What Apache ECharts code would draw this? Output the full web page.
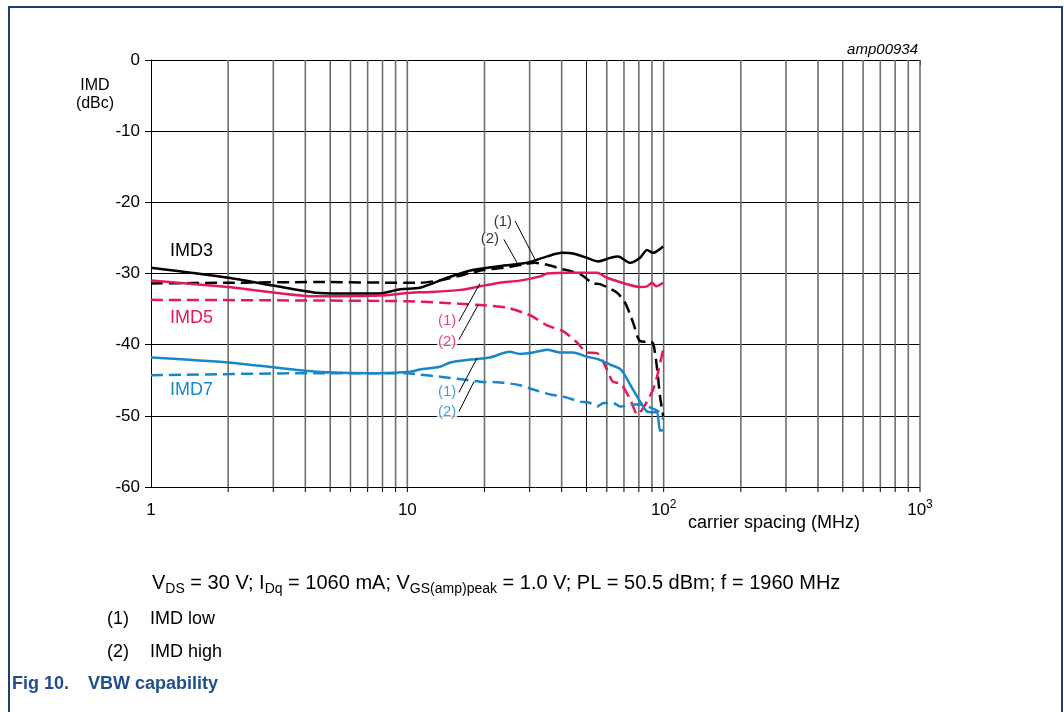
<!DOCTYPE html>
<html>
<head>
<meta charset="utf-8">
<script src="https://cdn.jsdelivr.net/npm/echarts@6/dist/echarts.min.js"></script>
<style>
  html, body { margin: 0; padding: 0; background: #fff; }
  #chart { width: 1064px; height: 712px; }
</style>
</head>
<body>
<div id="chart"></div>
<script>
// Carrier spacing (MHz) vs IMD (dBc); (1) = IMD low, (2) = IMD high
const imd3Low = [[1,-29.2],[2,-30.6],[3,-31.7],[4.4,-32.7],[5.5,-32.8],[7.8,-32.8],[9.4,-32.2],[11.2,-32.0],[14.3,-30.6],[18,-29.5],[22.4,-29.0],[29.3,-28.5],[35.1,-27.6],[40.1,-27.1],[44.3,-27.2],[50.2,-27.8],[55.5,-28.3],[61.8,-27.8],[66.4,-27.6],[74,-28.5],[80.9,-27.8],[86.1,-26.7],[90.9,-27.1],[99.5,-26.2]];
const imd3High = [[1,-31.4],[2,-31.3],[4.4,-31.2],[10,-31.3],[11.2,-31.3],[13.6,-30.9],[16.5,-30.2],[19.8,-29.5],[23.8,-29.2],[28.6,-28.7],[31.5,-28.5],[40.5,-29.4],[47.2,-30.1],[53.1,-31.4],[56.5,-31.5],[65.8,-32.7],[70.7,-34.1],[76,-36.9],[80.9,-39.5],[86.9,-39.6],[90.9,-39.8],[94.2,-43.3],[96.8,-47.3],[99.5,-50.0]];
const imd5Low = [[1,-31.0],[2,-31.9],[4.4,-33.2],[7.8,-33.1],[10.3,-32.7],[12.3,-32.6],[16.1,-32.3],[19.2,-31.8],[23,-31.3],[27.5,-31.0],[33,-30.4],[35.1,-30.0],[43.1,-29.9],[55,-29.9],[60.1,-30.6],[72,-31.5],[80.9,-31.9],[86.1,-31.8],[90.1,-31.3],[93.4,-31.8],[99.5,-31.3]];
const imd5High = [[1,-33.7],[4.4,-33.8],[10,-33.9],[13.6,-34.1],[18.7,-34.4],[24.5,-34.8],[29.3,-35.7],[31,-36.1],[35.1,-37.3],[40.5,-38.1],[45.9,-39.7],[50.2,-41.1],[55,-41.2],[60.1,-43.5],[63.3,-45.2],[68.1,-45.5],[74,-47.7],[79.1,-49.8],[86.1,-48.0],[90.9,-46.3],[94.2,-44.5],[99.5,-40.7]];
const imd7Low = [[1,-41.8],[2,-42.5],[4.4,-43.8],[7.8,-44.0],[10.3,-43.8],[11.2,-43.5],[13.4,-43.1],[14.7,-42.5],[17.6,-42.1],[21,-41.8],[25.1,-41.0],[27.5,-41.3],[31,-41.1],[35.1,-40.7],[39.4,-41.1],[44.3,-41.1],[50.2,-41.7],[55,-42.0],[61.8,-42.8],[68.1,-43.5],[74,-45.6],[80.9,-48.0],[86.1,-49.4],[90.1,-49.5],[94.2,-49.5],[96.8,-52.1],[99.5,-52.0]];
const imd7High = [[1,-44.3],[4.4,-44.0],[10,-44.0],[11.2,-44.2],[13.4,-44.5],[16.5,-44.9],[19.2,-45.2],[23,-45.3],[27.5,-45.7],[31,-46.3],[36.1,-47.0],[40.5,-47.3],[47.2,-48.0],[50.8,-48.1],[55,-48.7],[58.3,-48.2],[63.3,-48.2],[68.1,-48.7],[74,-48.4],[80.9,-48.4],[88.4,-48.8],[95.5,-49.4],[99.5,-50.5]];

// Vertical grid lines inside the plot (1..9 of each decade)
const gridFreqs = [2,3,4,5,6,7,8,9,10,20,30,40,50,60,70,80,90,100,200,300,400,500,600,700,800,900,1000];

// Callout texts "(1)"/"(2)" and their leader lines, in data units
const calloutTexts = [
  { text: '(1)', at: [23.6, -22.7], color: '#000000' },
  { text: '(2)', at: [21.0, -25.2], color: '#000000' },
  { text: '(1)', at: [14.3, -36.7], color: '#e6175b' },
  { text: '(2)', at: [14.3, -39.6], color: '#e6175b' },
  { text: '(1)', at: [14.3, -46.7], color: '#1787c9' },
  { text: '(2)', at: [14.3, -49.4], color: '#1787c9' }
];
const leaderLines = [
  { from: [26.3, -22.6], to: [31.5, -28.05] },
  { from: [23.8, -25.2], to: [26.8, -28.5] },
  { from: [15.9, -36.7], to: [19.2, -31.4] },
  { from: [15.9, -39.3], to: [18.9, -34.4] },
  { from: [15.9, -46.7], to: [18.7, -41.9] },
  { from: [15.9, -49.4], to: [18.2, -45.2] }
];

const BLACK = '#000000', PINK = '#e6175b', BLUE = '#1787c9', NAVY = '#1b3f72', TITLE = '#1f4e8c';
const FONT = '"Liberation Sans", Arial, Helvetica, sans-serif';

const chart = echarts.init(document.getElementById('chart'), null, { renderer: 'canvas' });

function curve(name, data, color, dashed) {
  return {
    name, type: 'line', data, showSymbol: false, smooth: 0.25, z: 5,
    lineStyle: { color, width: 2.5, type: dashed ? [12, 6] : 'solid', cap: 'butt' },
    emphasis: { disabled: true }
  };
}

const option = {
  animation: false,
  backgroundColor: '#ffffff',
  textStyle: { fontFamily: FONT },
  grid: { left: 151, top: 60, width: 769, height: 427, containLabel: false },
  xAxis: {
    type: 'log', logBase: 10, min: 1, max: 1000,
    axisLine: { show: true, lineStyle: { color: BLACK, width: 1 } },
    axisTick: { show: true, inside: false, length: 5, lineStyle: { color: BLACK, width: 1 } },
    splitLine: { show: false },
    axisLabel: {
      margin: 12, color: BLACK, fontSize: 17, fontFamily: FONT,
      formatter: function (v) {
        const p = Math.round(Math.log10(v));
        if (p === 0) return '{b|1}';
        if (p === 1) return '{b|10}';
        return '{b|10}{s|' + p + '}';
      },
      rich: {
        b: { fontSize: 17, lineHeight: 22, fontFamily: FONT, color: BLACK },
        s: { fontSize: 12, lineHeight: 12, verticalAlign: 'top', fontFamily: FONT, color: BLACK }
      }
    }
  },
  yAxis: {
    type: 'value', min: -60, max: 0, interval: 10,
    axisLine: { show: true, lineStyle: { color: BLACK, width: 1 } },
    axisTick: { show: true, inside: false, length: 6, lineStyle: { color: BLACK, width: 1 } },
    splitLine: { show: true, lineStyle: { color: BLACK, width: 1 } },
    axisLabel: { margin: 11, color: BLACK, fontSize: 17, fontFamily: FONT }
  },
  series: [
    {
      // vertical grid lines plus their outward ticks below the axis
      type: 'custom', silent: true, z: 1, clip: false,
      data: gridFreqs.map(v => [v, -60]),
      encode: { x: 0, y: 1 },
      renderItem: function (params, api) {
        const v = api.value(0);
        const top = api.coord([v, 0]);
        const bot = api.coord([v, -60]);
        const lead = Math.round(v / Math.pow(10, Math.floor(Math.log10(v) + 1e-9)));
        const sharp = lead === 5;
        return {
          type: 'group',
          children: [
            { type: 'line', shape: { x1: top[0], y1: top[1], x2: bot[0], y2: bot[1] },
              style: { stroke: sharp ? '#1a1a1a' : '#6e6e6e', lineWidth: sharp ? 1 : 1.6 } },
            { type: 'line', shape: { x1: bot[0], y1: bot[1], x2: bot[0], y2: bot[1] + 5 },
              style: { stroke: BLACK, lineWidth: 1 } }
          ]
        };
      }
    },
    curve('IMD3 (1)', imd3Low, BLACK, false),
    curve('IMD3 (2)', imd3High, BLACK, true),
    curve('IMD5 (1)', imd5Low, PINK, false),
    curve('IMD5 (2)', imd5High, PINK, true),
    curve('IMD7 (1)', imd7Low, BLUE, false),
    curve('IMD7 (2)', imd7High, BLUE, true),
    {
      type: 'lines', coordinateSystem: 'cartesian2d', silent: true, z: 6,
      polyline: false,
      data: leaderLines.map(l => ({ coords: [l.from, l.to] })),
      lineStyle: { color: BLACK, width: 1, opacity: 1, curveness: 0 },
      symbol: 'none'
    },
    {
      type: 'scatter', silent: true, z: 7, symbolSize: 1,
      itemStyle: { color: 'rgba(0,0,0,0)' },
      data: calloutTexts.map(c => ({
        value: c.at,
        label: {
          show: true, position: 'inside', formatter: c.text, color: c.color,
          fontSize: 15, fontFamily: FONT, backgroundColor: '#ffffff', padding: [0, 1]
        }
      }))
    }
  ],
  graphic: [
    // page frame
    { type: 'polyline', silent: true, shape: { points: [[9, 712], [9, 7], [1062, 7], [1062, 712]] },
      style: { stroke: NAVY, lineWidth: 2, fill: null } },
    { type: 'text', x: 918, y: 50, style: { text: 'amp00934', fill: BLACK, font: 'italic 15px ' + FONT, align: 'right', verticalAlign: 'middle' } },
    { type: 'text', x: 95, y: 86, style: { text: 'IMD', fill: BLACK, font: '16px ' + FONT, align: 'center', verticalAlign: 'middle' } },
    { type: 'text', x: 95, y: 104, style: { text: '(dBc)', fill: BLACK, font: '16px ' + FONT, align: 'center', verticalAlign: 'middle' } },
    { type: 'text', x: 170, y: 251, style: { text: 'IMD3', fill: BLACK, font: '18px ' + FONT, align: 'left', verticalAlign: 'middle' } },
    { type: 'text', x: 170, y: 318, style: { text: 'IMD5', fill: PINK, font: '18px ' + FONT, align: 'left', verticalAlign: 'middle' } },
    { type: 'text', x: 170, y: 390, style: { text: 'IMD7', fill: BLUE, font: '18px ' + FONT, align: 'left', verticalAlign: 'middle' } },
    { type: 'text', x: 688, y: 523, style: { text: 'carrier spacing (MHz)', fill: BLACK, font: '18px ' + FONT, align: 'left', verticalAlign: 'middle' } },
    { type: 'text', x: 152, y: 583, style: {
        text: 'V{s|DS} = 30 V; I{s|Dq} = 1060 mA; V{s|GS(amp)peak} = 1.0 V; PL = 50.5 dBm; f = 1960 MHz',
        fill: BLACK, font: '20px ' + FONT, align: 'left', verticalAlign: 'middle', lineHeight: 26,
        rich: {
          s: { fontSize: 14, lineHeight: 14, verticalAlign: 'bottom', fontFamily: FONT, fill: BLACK }
        }
      } },
    { type: 'text', x: 107, y: 619, style: { text: '(1)', fill: BLACK, font: '18px ' + FONT, align: 'left', verticalAlign: 'middle' } },
    { type: 'text', x: 150, y: 619, style: { text: 'IMD low', fill: BLACK, font: '18px ' + FONT, align: 'left', verticalAlign: 'middle' } },
    { type: 'text', x: 107, y: 652, style: { text: '(2)', fill: BLACK, font: '18px ' + FONT, align: 'left', verticalAlign: 'middle' } },
    { type: 'text', x: 150, y: 652, style: { text: 'IMD high', fill: BLACK, font: '18px ' + FONT, align: 'left', verticalAlign: 'middle' } },
    { type: 'text', x: 12, y: 684, style: { text: 'Fig 10.', fill: TITLE, font: 'bold 18px ' + FONT, align: 'left', verticalAlign: 'middle' } },
    { type: 'text', x: 88, y: 684, style: { text: 'VBW capability', fill: TITLE, font: 'bold 18px ' + FONT, align: 'left', verticalAlign: 'middle' } }
  ]
};

chart.setOption(option);
</script>
</body>
</html>
